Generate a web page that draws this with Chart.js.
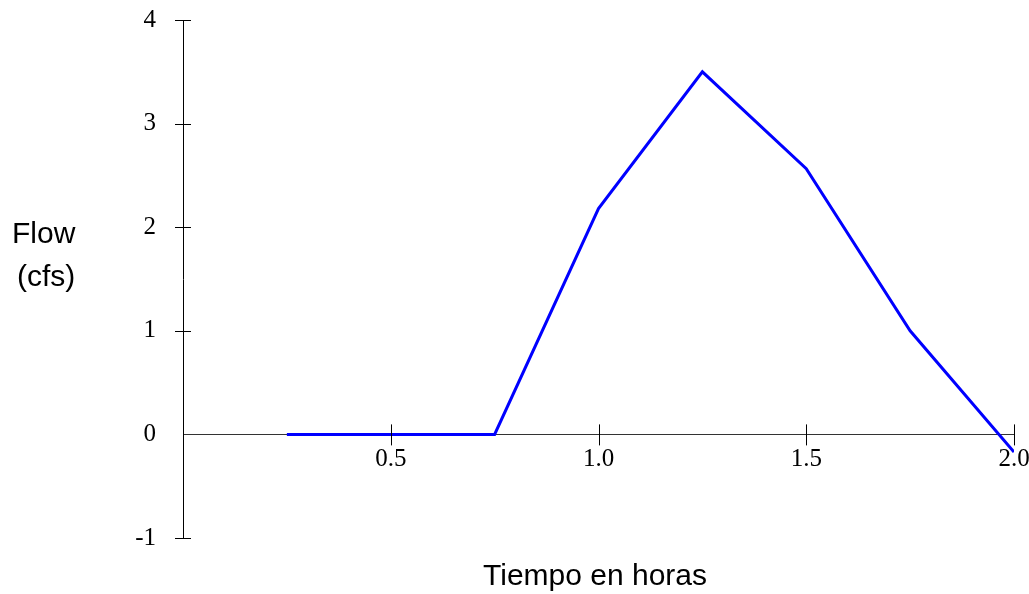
<!DOCTYPE html>
<html>
<head>
<meta charset="utf-8">
<script src="https://cdn.jsdelivr.net/npm/chart.js@4"></script>
<style>
  html, body { margin: 0; padding: 0; background: #fff; }
  #wrap { width: 1029px; height: 594px; position: relative; }
</style>
</head>
<body>
<div id="wrap"><canvas id="chart"></canvas></div>
<script>
// hidrograma: caudal vs tiempo
const horas = [0.25, 0.75, 1.0, 1.25, 1.5, 1.75, 2.0];
const caudal = [0, 0, 2.18, 3.5, 2.565, 1.0, -0.17];
const xTicks = [0.5, 1.0, 1.5, 2.0];
const yTicks = [-1, 0, 1, 2, 3, 4];
const yTitle = ['Flow', '(cfs)'];
const xTitle = 'Tiempo en horas';

// ticks que cruzan el eje + títulos
const axisDeco = {
  id: 'axisDeco',
  afterDraw(chart) {
    const { ctx, scales: { x, y } } = chart;
    const x0 = x.getPixelForValue(0);
    const y0 = y.getPixelForValue(0);
    ctx.save();
    ctx.strokeStyle = '#000';
    ctx.lineWidth = 1;
    ctx.beginPath();
    yTicks.filter((v) => v !== 0).forEach((v) => {
      const py = Math.round(y.getPixelForValue(v)) + 0.5;
      ctx.moveTo(x0 - 8, py);
      ctx.lineTo(x0 + 8, py);
    });
    xTicks.forEach((v) => {
      const px = Math.round(x.getPixelForValue(v)) + 0.5;
      ctx.moveTo(px, y0 - 10);
      ctx.lineTo(px, y0 + 11);
    });
    ctx.stroke();

    ctx.fillStyle = '#000';
    ctx.font = '30px "Liberation Sans", Arial, sans-serif';
    ctx.textAlign = 'left';
    ctx.textBaseline = 'alphabetic';
    ctx.fillText(yTitle[0], 12, 243);
    ctx.fillText(yTitle[1], 17, 286);
    ctx.textAlign = 'center';
    ctx.fillText(xTitle, 595, 585);
    ctx.restore();
  },
};

new Chart(document.getElementById('chart'), {
  type: 'line',
  data: {
    datasets: [{
      data: horas.map((h, i) => ({ x: h, y: caudal[i] })),
      borderColor: '#0000ff',
      borderWidth: 3,
      pointRadius: 0,
      tension: 0,
      fill: false,
    }],
  },
  options: {
    responsive: true,
    maintainAspectRatio: false,
    animation: false,
    layout: { padding: { top: 20, right: 15, bottom: 56, left: 0 } },
    plugins: { legend: { display: false }, tooltip: { enabled: false } },
    scales: {
      x: {
        type: 'linear',
        min: 0, max: 2,
        position: { y: 0 },
        afterBuildTicks: (s) => { s.ticks = xTicks.map((v) => ({ value: v })); },
        afterFit: (s) => { s.paddingLeft = 0; s.paddingRight = 0; },
        ticks: {
          callback: (v) => v.toFixed(1),
          color: '#000',
          padding: 10,
          maxRotation: 0,
          font: { family: '"Liberation Serif", "Times New Roman", serif', size: 25 },
        },
        grid: { display: false, drawTicks: false },
        border: { display: true, color: '#333', width: 1 },
      },
      y: {
        type: 'linear',
        min: -1, max: 4,
        position: 'left',
        afterFit: (s) => { s.width = 183; s.paddingTop = 0; s.paddingBottom = 0; },
        afterBuildTicks: (s) => { s.ticks = yTicks.map((v) => ({ value: v })); },
        ticks: {
          color: '#000',
          padding: 27,
          font: { family: '"Liberation Serif", "Times New Roman", serif', size: 25 },
        },
        grid: { display: false, drawTicks: false },
        border: { display: true, color: '#000', width: 1 },
      },
    },
  },
  plugins: [axisDeco],
});
</script>
</body>
</html>
